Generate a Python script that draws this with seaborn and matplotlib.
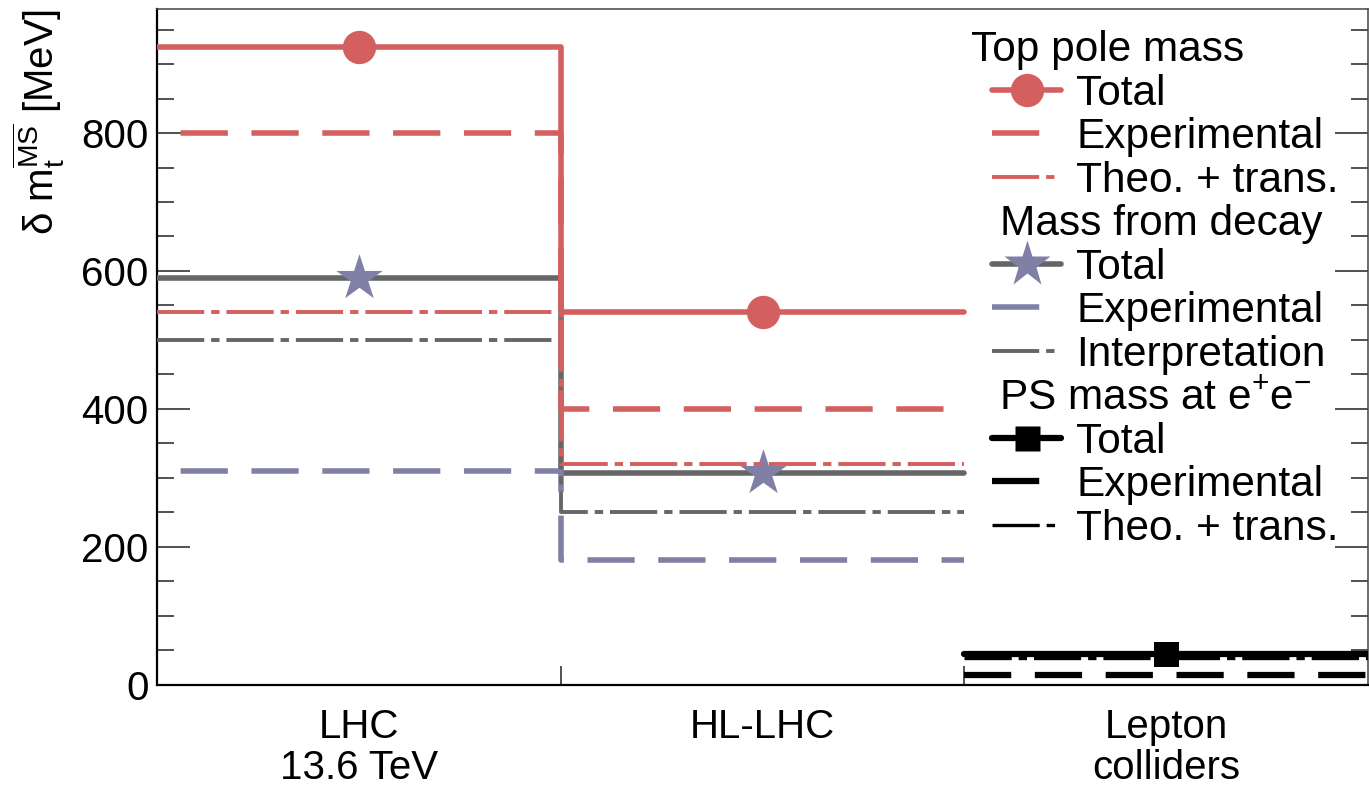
import matplotlib
matplotlib.use("Agg")
import matplotlib.pyplot as plt
from matplotlib.lines import Line2D
from matplotlib.ticker import MultipleLocator, FixedLocator
import seaborn as sns

# Collider scenarios (one bin each)
colliders = ["LHC\n13.6 TeV", "HL-LHC", "Lepton\ncolliders"]

# Top pole mass uncertainties [MeV] for LHC and HL-LHC
pole_total = [925, 540]
pole_exp = [800, 400]
pole_theo = [540, 320]

# Mass from decay uncertainties [MeV] for LHC and HL-LHC
decay_total = [590, 307]
decay_exp = [310, 180]
decay_interp = [500, 250]

# PS mass at e+e- colliders [MeV]
ps_total = [44]
ps_exp = [14]
ps_theo = [38]

RED = "#d35f5f"
GRAY = "#666666"
SLATE = "#8080a6"
BLACK = "#000000"

sns.set_theme(style="ticks")
plt.rcParams["font.family"] = ["Liberation Sans", "DejaVu Sans"]
plt.rcParams["mathtext.fontset"] = "custom"
plt.rcParams["mathtext.rm"] = "Liberation Sans"
plt.rcParams["mathtext.it"] = "Liberation Sans:italic"
plt.rcParams["mathtext.bf"] = "Liberation Sans:bold"
plt.rcParams["lines.scale_dashes"] = False
plt.rcParams["text.color"] = "black"
plt.rcParams["axes.labelcolor"] = "black"
plt.rcParams["legend.labelcolor"] = "black"

FS = 29
LFS = 30.5
DASH = (34, (34, 17))
LDASH = (0, (34, 17))
DASHDOT = (0, (34, 5, 6, 5))

fig = plt.figure(figsize=(13.69, 7.86), dpi=100)
ax = fig.add_axes([157 / 1369, 1 - 684.5 / 786, (1368 - 157) / 1369, (684.5 - 9) / 786])


def hadron_step(vals, color, lw, ls, z):
    xs = [0, 1, 2]
    ys = [vals[0], vals[1], vals[1]]
    sns.lineplot(x=xs, y=ys, ax=ax, color=color, linewidth=lw, linestyle=ls,
                 drawstyle="steps-post", estimator=None, sort=False,
                 errorbar=None, zorder=z)


def lepton_line(vals, color, lw, ls, z):
    sns.lineplot(x=[2, 3], y=[vals[0], vals[0]], ax=ax, color=color, linewidth=lw,
                 linestyle=ls, estimator=None, sort=False, errorbar=None, zorder=z)


# Mass from decay
hadron_step(decay_total, GRAY, 4.0, "-", 3)
hadron_step(decay_exp, SLATE, 4.0, DASH, 3)
hadron_step(decay_interp, GRAY, 2.8, DASHDOT, 3)
sns.scatterplot(x=[0.5, 1.5], y=decay_total, ax=ax, marker="*", s=35 ** 2,
                color=SLATE, linewidth=0, zorder=4)

# Top pole mass
hadron_step(pole_total, RED, 4.0, "-", 5)
hadron_step(pole_exp, RED, 4.0, DASH, 5)
hadron_step(pole_theo, RED, 2.8, DASHDOT, 5)
sns.scatterplot(x=[0.5, 1.5], y=pole_total, ax=ax, marker="o", s=24 ** 2,
                color=RED, linewidth=0, zorder=6)

# PS mass at lepton colliders
lepton_line(ps_theo, BLACK, 2.4, DASHDOT, 7)
lepton_line(ps_total, BLACK, 4.5, "-", 7)
lepton_line(ps_exp, BLACK, 4.5, LDASH, 7)
sns.scatterplot(x=[2.5], y=ps_total, ax=ax, marker="s", s=18 ** 2,
                color=BLACK, linewidth=0, zorder=8)

ax.set_xlim(0, 3)
ax.set_ylim(0, 980)

# Axes frame and ticks
for side in ["left", "bottom"]:
    ax.spines[side].set_linewidth(1.6)
    ax.spines[side].set_color("black")
for side in ["top", "right"]:
    ax.spines[side].set_visible(True)
    ax.spines[side].set_linewidth(1.1)
    ax.spines[side].set_color("#444444")

ax.yaxis.set_major_locator(MultipleLocator(200))
ax.yaxis.set_minor_locator(MultipleLocator(50))
ax.tick_params(axis="y", which="major", direction="in", length=24, width=1.2,
               color="#333333", labelsize=FS, pad=6, left=True, right=True,
               labelcolor="black")
ax.tick_params(axis="y", which="minor", direction="in", length=12, width=1.2,
               color="#333333", left=True, right=True)

ax.set_xticks([0.5, 1.5, 2.5])
ax.set_xticklabels(colliders)
ax.xaxis.set_minor_locator(FixedLocator([1, 2]))
ax.tick_params(axis="x", which="major", length=0, labelsize=FS, pad=17,
               labelcolor="black")
ax.tick_params(axis="x", which="minor", direction="in", length=14, width=1.2,
               color="#333333", bottom=True, top=False)
for lab in ax.get_xticklabels():
    lab.set_linespacing(1.08)

ax.set_xlabel("")
ax.set_ylabel(r"δ $\mathrm{m}_{\mathrm{t}}^{\overline{\mathrm{MS}}}$ [MeV]",
              fontsize=FS, loc="top", color="black")
ax.yaxis.set_label_coords((67 - 157) / 1211, 1.0)
ax.grid(False)

# Grouped legend with section headers
blank = Line2D([], [], linestyle="none")
handles = [
    blank,
    Line2D([], [], color=RED, lw=4.0, marker="o", ms=24, mec="none"),
    Line2D([], [], color=RED, lw=4.0, linestyle=LDASH),
    Line2D([], [], color=RED, lw=2.8, linestyle=DASHDOT),
    blank,
    Line2D([], [], color=GRAY, lw=4.0, marker="*", ms=35, mfc=SLATE, mec="none"),
    Line2D([], [], color=SLATE, lw=4.0, linestyle=LDASH),
    Line2D([], [], color=GRAY, lw=2.8, linestyle=DASHDOT),
    blank,
    Line2D([], [], color=BLACK, lw=4.5, marker="s", ms=18, mec="none"),
    Line2D([], [], color=BLACK, lw=4.5, linestyle=LDASH),
    Line2D([], [], color=BLACK, lw=2.4, linestyle=DASHDOT),
]
labels = [
    "Top pole mass", "Total", "Experimental", "Theo. + trans.",
    "Mass from decay", "Total", "Experimental", "Interpretation",
    r"PS mass at e$^{+}$e$^{-}$", "Total", "Experimental", "Theo. + trans.",
]
leg = ax.legend(handles, labels, loc="upper left",
                bbox_to_anchor=(992 / 1369, 1 - 30 / 786),
                bbox_transform=fig.transFigure, frameon=False, fontsize=LFS,
                handlelength=1.64, handletextpad=0.35, labelspacing=0.083,
                borderpad=0, borderaxespad=0)
for t in leg.get_texts():
    t.set_color("black")
for i, shift in [(0, -105), (4, -76), (8, -77)]:
    leg.get_texts()[i].set_x(shift)

fig.savefig("out.png", dpi=100)
